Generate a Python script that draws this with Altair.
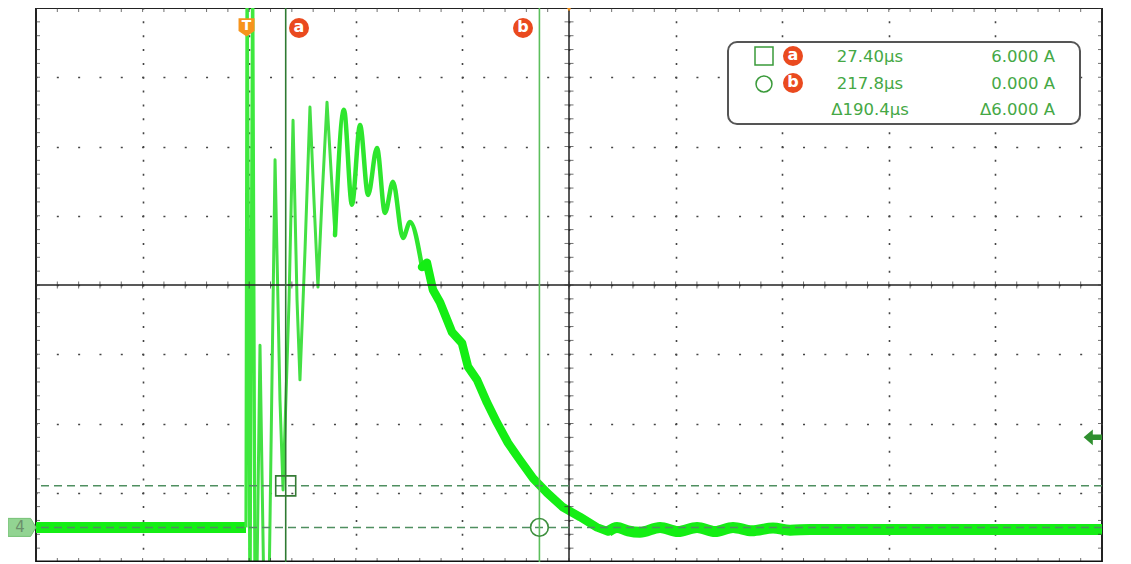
import altair as alt
import pandas as pd

# ---------------- screen geometry (10 x 8 divisions) ----------------
T_MIN, T_MAX = -160.0, 640.0      # time, µs  (80 µs / div)
I_MIN, I_MAX = -5.0, 75.0         # current, A (10 A / div)
T_DIV, I_DIV = 80.0, 10.0
T_CENTER, I_CENTER = 240.0, 35.0
W, H = 1066, 554

# ---------------- cursor readout ----------------
cursor_names = ["a", "b"]
cursor_t = [27.40, 217.8]         # µs
cursor_i = [6.000, 0.000]         # A
trigger_t = -2.0
trigger_level = 13.0

# ---------------- waveform (channel 4) ----------------
base_t = [-160.0, -2.4]
base_i = [0.0, 0.0]

burst_t = [-2.4, -1.6, 0.6, 2.6, 4.4, 5.5]
burst_i = [0.0, 82.0, -12.0, 82.0, -12.0, -12.0]

ring_t = [4.4, 5.5, 8.1, 11.1, 14.9, 19.4, 23.1, 25.4, 29.9,
          32.9, 35.9, 38.1, 41.9, 45.6, 48.6, 51.6, 54.6, 58.4, 61.4, 64.4]
ring_i = [-12.0, -12.0, 26.3, -10.5, -9.0, 53.1, 18.4, 5.4, 32.8,
          58.8, 32.8, 21.3, 40.1, 60.7, 47.3, 34.7, 47.3, 61.4, 51.6, 42.2]

mid_t = [64.4, 71.1, 77.1, 83.2, 89.2, 95.9, 101.9, 107.9, 115.4, 120.7, 129.7]
mid_i = [42.2, 60.3, 46.6, 58.1, 48.0, 54.8, 45.4, 49.9, 41.8, 44.1, 37.6]

decay_t = [129.7, 133.4, 137.9, 143.2, 152.2, 159.7, 164.2, 171.0, 178.5, 186.0,
           194.2, 203.2, 213.0, 223.5, 235.5, 248.3, 261.0, 269.3]
decay_i = [37.6, 38.2, 34.3, 32.5, 28.2, 26.6, 23.2, 21.3, 18.0, 15.1,
           12.2, 9.7, 7.1, 5.0, 2.9, 1.5, 0.0, -0.6]

tail_t = [269.3, 276.0, 284.3, 293.3, 308.3, 321.8, 336.1, 349.6, 363.1, 377.3,
          393.1, 405.9, 420.9, 640.0]
tail_i = [-0.6, 0.0, -0.5, -0.7, 0.0, -0.6, 0.0, -0.6, 0.0, -0.5,
          -0.1, -0.4, -0.3, -0.3]

# ---------------- scales / axes ----------------
XS = alt.Scale(domain=[T_MIN, T_MAX], nice=False, zero=False)
YS = alt.Scale(domain=[I_MIN, I_MAX], nice=False, zero=False)
major_t = [T_MIN + k * T_DIV for k in range(1, 10)]
major_i = [I_MIN + k * I_DIV for k in range(1, 8)]
minor_t = [T_MIN + k * T_DIV / 5 for k in range(51)]
minor_i = [I_MIN + k * I_DIV / 5 for k in range(41)]

XAX = alt.Axis(values=major_t, grid=True, gridDash=[2, H / 40 - 2], gridDashOffset=1,
               gridColor="#444", gridWidth=1.6, labels=False, ticks=False,
               domain=False, title=None)
YAX = alt.Axis(values=major_i, grid=True, gridDash=[2, W / 50 - 2], gridDashOffset=1,
               gridColor="#444", gridWidth=1.6, labels=False, ticks=False,
               domain=False, title=None)


def X():
    return alt.X("t:Q", scale=XS, axis=XAX, title=None)


def Y():
    return alt.Y("A:Q", scale=YS, axis=YAX, title=None)


def df(t, a):
    return pd.DataFrame({"t": t, "A": a})


layers = []

# ---- waveform ----
layers.append(alt.Chart(df(base_t, base_i)).mark_line(
    color="#14ee14", strokeWidth=11, clip=True, strokeCap="butt").encode(x=X(), y=Y()))
layers.append(alt.Chart(df(burst_t, burst_i)).mark_line(
    color="#3ee83e", strokeWidth=3.2, clip=True, strokeJoin="round").encode(x=X(), y=Y()))
layers.append(alt.Chart(df(ring_t, ring_i)).mark_line(
    color="#44e044", strokeWidth=3, clip=True, strokeJoin="round").encode(x=X(), y=Y()))
layers.append(alt.Chart(df(mid_t, mid_i)).mark_line(
    color="#2ee62e", strokeWidth=4.5, clip=True, interpolate="monotone",
    strokeJoin="round", strokeCap="round").encode(x=X(), y=Y()))
layers.append(alt.Chart(df(decay_t, decay_i)).mark_line(
    color="#14ee14", strokeWidth=8.5, clip=True, strokeJoin="round",
    strokeCap="round").encode(x=X(), y=Y()))
layers.append(alt.Chart(df(tail_t, tail_i)).mark_line(
    color="#14ee14", strokeWidth=11, clip=True, interpolate="monotone",
    strokeJoin="round").encode(x=X(), y=Y()))

# ---- centre crosshair ----
layers.append(alt.Chart(df([T_CENTER], [I_CENTER])).mark_rule(
    color="#222", strokeWidth=1.5).encode(x=X()))
layers.append(alt.Chart(df([T_CENTER], [I_CENTER])).mark_rule(
    color="#222", strokeWidth=1.5).encode(y=Y()))

# ---- ticks on centre lines and frame ----
htick = pd.DataFrame({
    "t": [T_CENTER] * len(minor_i) + [T_MIN] * len(minor_i) + [T_MAX] * len(minor_i),
    "A": minor_i * 3,
    "s": [9] * len(minor_i) + [8] * len(minor_i) * 2,
})
vtick = pd.DataFrame({
    "t": minor_t * 3,
    "A": [I_CENTER] * len(minor_t) + [I_MIN] * len(minor_t) + [I_MAX] * len(minor_t),
    "s": [7] * len(minor_t) + [8] * len(minor_t) * 2,
})
layers.append(alt.Chart(htick).mark_tick(orient="horizontal", thickness=1, color="#333",
                                         clip=True).encode(
    x=X(), y=Y(), size=alt.Size("s:Q", scale=None, legend=None)))
layers.append(alt.Chart(vtick).mark_tick(orient="vertical", thickness=1, color="#333",
                                         clip=True).encode(
    x=X(), y=Y(), size=alt.Size("s:Q", scale=None, legend=None)))

# bottom frame edge (thicker)
layers.append(alt.Chart(df([T_MIN], [I_MIN])).mark_rule(
    color="#111", strokeWidth=3).encode(y=Y()))

# ---- cursors ----
layers.append(alt.Chart(df(cursor_t, cursor_i)).mark_rule(
    color="#4f8f60", strokeWidth=1.5, strokeDash=[8, 5]).encode(y=Y()))
layers.append(alt.Chart(df(cursor_t[:1], cursor_i[:1])).mark_rule(
    color="#2f7a32", strokeWidth=1.6).encode(x=X()))
layers.append(alt.Chart(df(cursor_t[1:], cursor_i[1:])).mark_rule(
    color="#5cbf5c", strokeWidth=1.6).encode(x=X()))
layers.append(alt.Chart(df(cursor_t[:1], cursor_i[:1])).mark_point(
    shape="square", size=400, filled=False, color="#357a35", strokeWidth=1.6,
    opacity=1).encode(x=X(), y=Y()))
layers.append(alt.Chart(df(cursor_t[1:], cursor_i[1:])).mark_point(
    shape="circle", size=314, filled=False, color="#3d8f3d", strokeWidth=1.6,
    opacity=1).encode(x=X(), y=Y()))

# ---- trigger marker "T" and cursor badges at top ----
tdf = pd.DataFrame({"t": [trigger_t], "lab": ["T"]})
layers.append(alt.Chart(tdf).mark_point(
    shape="M -1 -1.1 L 1 -1.1 L 1 0.5 L 0 1.2 L -1 0.5 Z", size=256, filled=True,
    color="#f7941d", opacity=1).encode(x=X(), y=alt.value(19)))
layers.append(alt.Chart(tdf).mark_text(
    color="white", font="DejaVu Sans", fontWeight="bold", fontSize=14,
    baseline="middle").encode(x=X(), y=alt.value(18), text="lab:N"))

layers.append(alt.Chart(df([T_CENTER], [I_MAX])).mark_point(
    shape="triangle-down", size=110, filled=True, color="#f7941d",
    opacity=1).encode(x=X(), y=alt.value(-1)))

badge_x = [263, 487]
for name, bx in zip(cursor_names, badge_x):
    bd = pd.DataFrame({"lab": [name]})
    layers.append(alt.Chart(bd).mark_point(
        shape="circle", size=400, filled=True, color="#ea4a1f", opacity=1).encode(
        x=alt.value(bx), y=alt.value(20)))
    layers.append(alt.Chart(bd).mark_text(
        color="white", font="DejaVu Sans", fontWeight="bold", fontSize=16,
        baseline="middle").encode(x=alt.value(bx), y=alt.value(19), text="lab:N"))

# ---- channel 4 ground badge (left) and trigger level arrow (right) ----
layers.append(alt.Chart(df([T_MIN], [0.0])).mark_point(
    shape="M -3.1 -1 L -0.6 -1 L 0 0 L -0.6 1 L -3.1 1 Z", size=324, filled=True,
    fill="#92d492", stroke="#72c072", strokeWidth=1, opacity=1).encode(x=X(), y=Y()))
layers.append(alt.Chart(pd.DataFrame({"t": [T_MIN], "A": [0.0], "lab": ["4"]})).mark_text(
    dx=-16, color="#6b8f6b", font="DejaVu Sans", fontSize=15, baseline="middle").encode(
    x=X(), y=Y(), text="lab:N"))
layers.append(alt.Chart(df([T_MAX], [trigger_level])).mark_point(
    shape="M -3 0 L -1.5 -1.3 L -1.5 -0.45 L 0 -0.45 L 0 0.45 L -1.5 0.45 L -1.5 1.3 Z",
    size=150, filled=True, color="#2f8f2f", opacity=1).encode(x=X(), y=Y()))

# ---- readout box ----
one = pd.DataFrame({"k": [0]})
layers.append(alt.Chart(one).mark_rect(
    fill="white", stroke="#555", strokeWidth=2, cornerRadius=9).encode(
    x=alt.value(692), x2=alt.value(1044), y=alt.value(34), y2=alt.value(116)))

row_y = [49, 76, 102]
dt = cursor_t[1] - cursor_t[0]
di = cursor_i[0] - cursor_i[1]
col1 = [f"{cursor_t[0]:.2f}µs", f"{cursor_t[1]:.1f}µs", f"Δ{dt:.1f}µs"]
col2 = [f"{cursor_i[0]:.3f} A", f"{cursor_i[1]:.3f} A", f"Δ{di:.3f} A"]
GREEN_TXT = "#45a845"
for ry, s1, s2 in zip(row_y, col1, col2):
    layers.append(alt.Chart(pd.DataFrame({"s": [s1]})).mark_text(
        color=GREEN_TXT, font="DejaVu Sans", fontSize=16.5, align="center",
        baseline="middle").encode(x=alt.value(834), y=alt.value(ry), text="s:N"))
    layers.append(alt.Chart(pd.DataFrame({"s": [s2]})).mark_text(
        color=GREEN_TXT, font="DejaVu Sans", fontSize=16.5, align="right",
        baseline="middle").encode(x=alt.value(1019), y=alt.value(ry), text="s:N"))

layers.append(alt.Chart(one).mark_point(
    shape="square", size=324, filled=False, color="#3a9a3a", strokeWidth=1.5,
    opacity=1).encode(x=alt.value(728), y=alt.value(48)))
layers.append(alt.Chart(one).mark_point(
    shape="circle", size=254, filled=False, color="#3a9a3a", strokeWidth=1.5,
    opacity=1).encode(x=alt.value(728), y=alt.value(76)))
for name, ry in zip(cursor_names, row_y[:2]):
    bd = pd.DataFrame({"lab": [name]})
    layers.append(alt.Chart(bd).mark_point(
        shape="circle", size=400, filled=True, color="#ea4a1f", opacity=1).encode(
        x=alt.value(757), y=alt.value(ry - 1)))
    layers.append(alt.Chart(bd).mark_text(
        color="white", font="DejaVu Sans", fontWeight="bold", fontSize=16,
        baseline="middle").encode(x=alt.value(757), y=alt.value(ry - 2), text="lab:N"))

chart = alt.layer(*layers).properties(
    width=W, height=H,
    padding={"left": 28, "top": 0, "right": 21, "bottom": 0},
    autosize=alt.AutoSizeParams(type="none"),
    background="white",
).configure_view(stroke="#222", strokeWidth=2)

chart.save("out.html", embed_options={"renderer": "svg", "actions": False})
